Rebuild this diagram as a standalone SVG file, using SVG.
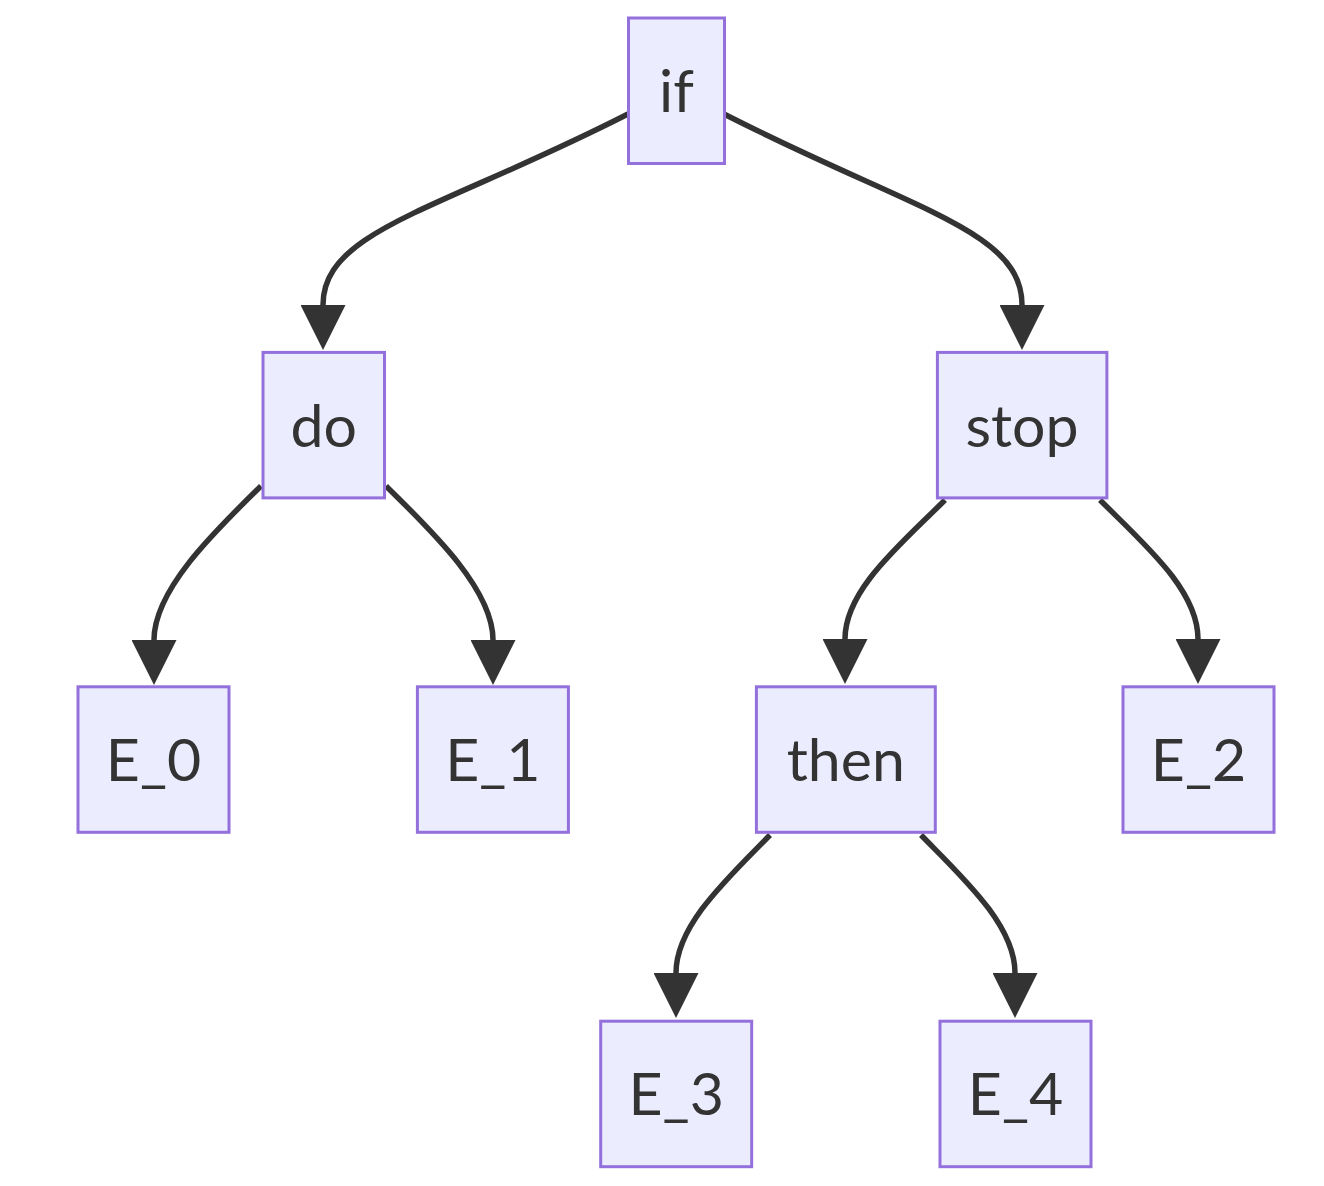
<svg xmlns="http://www.w3.org/2000/svg" width="1324" height="1186" viewBox="0 0 1324 1186">
<style>
.node rect{fill:#ECECFF;stroke:#9370DB;stroke-width:3}
.node text{font-family:Lato,"Open Sans","Liberation Sans",sans-serif;font-size:59px;fill:#333333;text-anchor:middle}
.edge{fill:none;stroke:#333333;stroke-width:5.5;marker-end:url(#arrow)}
</style>
<defs>
<marker id="arrow" markerUnits="userSpaceOnUse" markerWidth="45" markerHeight="45" viewBox="0 0 10 10" refX="0" refY="5" orient="auto">
<path d="M0,0 L10,5 L0,10 z" fill="#333333"/>
</marker>
</defs>
<rect width="1324" height="1186" fill="#ffffff"/>
<g id="connectors">
<path class="edge" d="M628,114 C440,210 323,230 323,305"/>
<path class="edge" d="M724,114 C912,210 1022,230 1022,305"/>
<path class="edge" d="M261,486 C214,532 154,590 154,640"/>
<path class="edge" d="M386,486 C433,532 493,590 493,640"/>
<path class="edge" d="M945,500 C900,545 845,590 845,639"/>
<path class="edge" d="M1100,500 C1145,545 1198,590 1198,639"/>
<path class="edge" d="M770,835 C728,878 676,925 676,973"/>
<path class="edge" d="M921,835 C963,878 1015,925 1015,973"/>
</g>
<g id="node-if" class="node"><rect x="628.5" y="18" width="96" height="145.5"/><text x="676.5" y="112.2">if</text></g>
<g id="node-do" class="node"><rect x="263" y="352.4" width="121.5" height="145.5"/><text x="323.7" y="446.6">do</text></g>
<g id="node-stop" class="node"><rect x="937.4" y="352.4" width="169.5" height="145.5"/><text x="1022.1" y="446.6">stop</text></g>
<g id="node-E_0" class="node"><rect x="78" y="686.8" width="151" height="145.5"/><text x="153.5" y="781">E_0</text></g>
<g id="node-E_1" class="node"><rect x="417.4" y="686.8" width="151" height="145.5"/><text x="492.9" y="781">E_1</text></g>
<g id="node-then" class="node"><rect x="756.4" y="686.8" width="178.9" height="145.5"/><text x="845.8" y="781">then</text></g>
<g id="node-E_2" class="node"><rect x="1123" y="686.8" width="151" height="145.5"/><text x="1198.5" y="781">E_2</text></g>
<g id="node-E_3" class="node"><rect x="600.7" y="1021.2" width="151" height="145.5"/><text x="676.2" y="1115.4">E_3</text></g>
<g id="node-E_4" class="node"><rect x="940" y="1021.2" width="151" height="145.5"/><text x="1015.5" y="1115.4">E_4</text></g>
</svg>
